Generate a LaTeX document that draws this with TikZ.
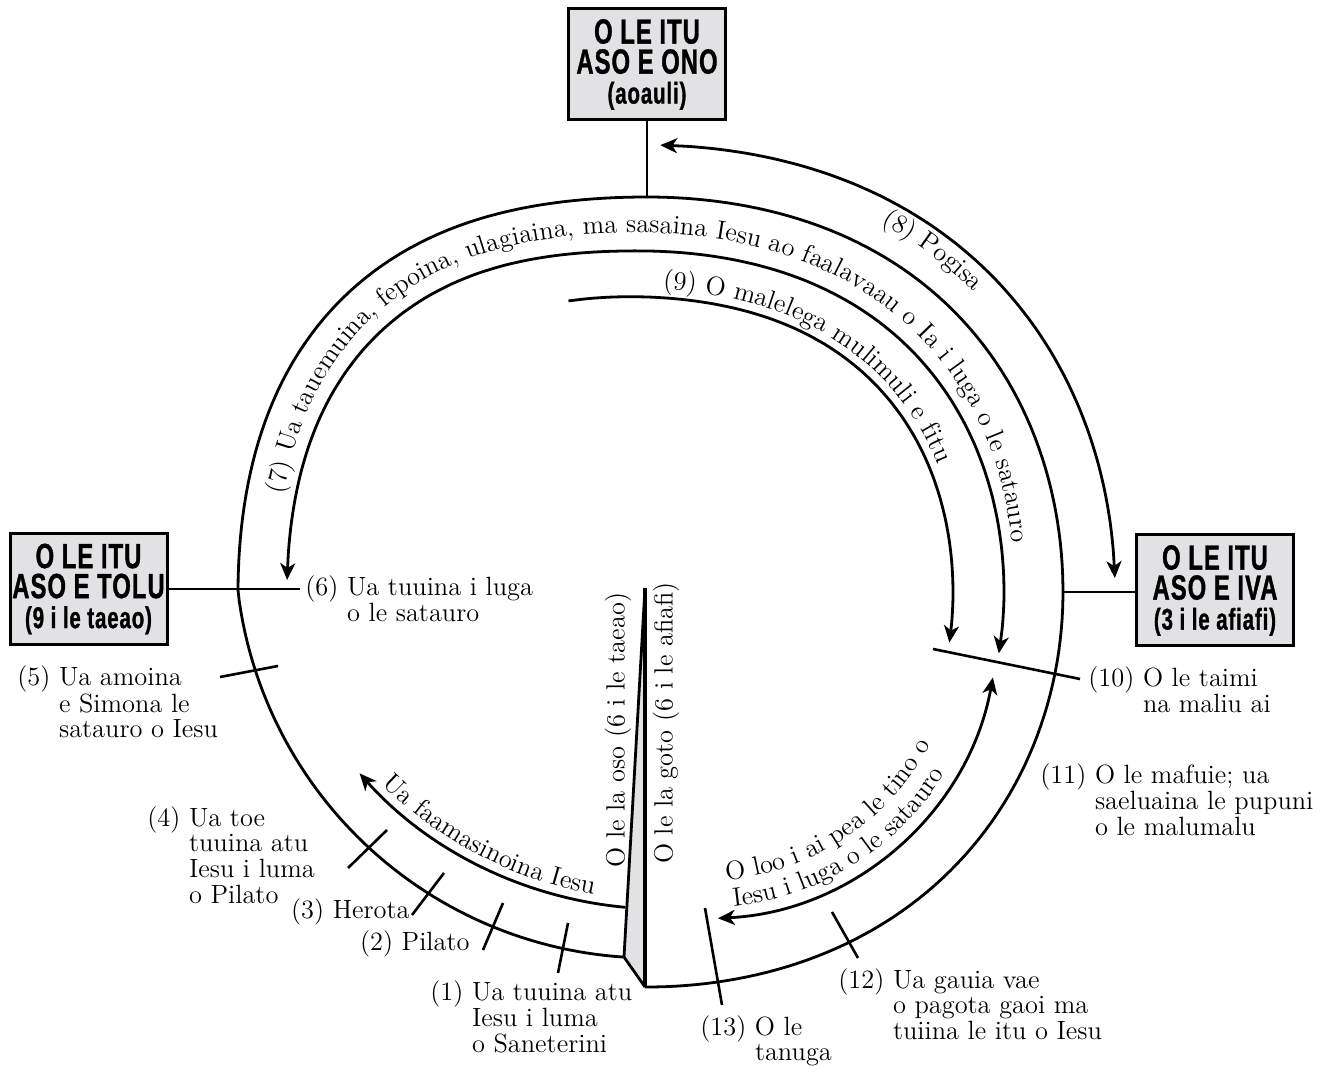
\documentclass[tikz,border=0pt]{standalone}
\usepackage{fontspec}
\newfontfamily\boxfont[FakeStretch=0.68, FakeBold=1, LetterSpace=3]{Liberation Sans}
\usetikzlibrary{arrows.meta, decorations.text}

\definecolor{panelgray}{RGB}{226,226,228}
\newcommand{\lblfont}{\fontsize{13.2}{12.4}\selectfont}

\begin{document}
\begin{tikzpicture}[
    x=0.5pt, y=0.5pt,
    >={Stealth[length=8.5pt, width=7.5pt, inset=2.5pt]},
    % ring shape: ellipse quarters with a bulge, spiral circle at the lower left
    declare function={
      sqv(\p)=(\p)*(\p);
      ell(\p,\rx,\ry)=400/sqrt(sqv(cos(\p)*400/\rx)+sqv(sin(\p)*400/\ry));
      cir(\p)=4*cos(\p)+50*sin(\p)+100*sqrt(17.3056-sqv((4*sin(\p)-50*cos(\p))/100));
      ring(\p)=(\p<0) ? ell(\p,416,395)+6*sqv(sin(2*\p)) : ((\p<90) ? ell(\p,416,395)+10*sqv(sin(2*\p)) : ((\p<180) ? ell(\p,409,395)+21*sqv(sin(2*\p)) : cir(\p)));
      ringa(\p)=ell(\p,416,395)+10*sqv(sin(2*\p))-100-10*cos(\p);
    },
    % Define styles for the different parts
    daybox/.style={rectangle, draw, line width=1.5pt, fill=panelgray, minimum width=78.5pt, minimum height=55.5pt, inner sep=0pt, align=center, font=\boxfont\bfseries\fontsize{17.5}{15}\selectfont},
    curve/.style={line width=1.4pt},
    tickline/.style={line width=1.3pt},
    lbl/.style={inner sep=0pt, font=\lblfont},
    sidelbl/.style={inner sep=0pt, font=\lblfont, rotate=90},
    arctext/.style={decorate, decoration={text along path, text align=left, text={|\lblfont|#1}}},
]
\useasboundingbox (0,0) rectangle (1335,1066);

% -------------------------
% Day boxes
% -------------------------
\node (sixth) [daybox] at (647,1001.5) {O LE ITU\\ASO E ONO\\{\fontsize{15}{15}\selectfont (aoauli)}};
\node (third) [daybox] at (88.5,477) {O LE ITU\\ASO E TOLU\\{\fontsize{15}{15}\selectfont (9 i le taeao)}};
\node (ninth) [daybox] at (1215,475.5) {O LE ITU\\ASO E IVA\\{\fontsize{15}{15}\selectfont (3 i le afiafi)}};

% -------------------------
% Key points
% -------------------------
\coordinate (centre) at (647,474);
\coordinate (trialc) at (662,562);
\coordinate (bodyc) at (704,441);
\coordinate (wtop) at (645,478);
\coordinate (wb) at (645,79);
\coordinate (wl) at (624,109);
\coordinate (sixend) at (300,476);

\begin{scope}[shift={(centre)}]
  \coordinate (topjoin) at (90:395);
  \coordinate (ninejoin) at (0:416);
\end{scope}

% -------------------------
% Sunrise / sunset wedge
% -------------------------
\fill[panelgray] (wtop) -- (wb) -- (wl) -- cycle;
\draw[curve] (wl) -- (wtop);
\draw[curve] (wl) -- (wb);
\draw[curve, line width=1.9pt] (wtop) -- (wb);

% -------------------------
% Day ring and arcs
% -------------------------
\begin{scope}[shift={(centre)}]
  % outer ring (spiral end at the wedge)
  \draw[curve] plot[domain=-90.3:266.3, samples=240, variable=\t] ({\t}:{ring(\t)});
  % (7) mocking
  \draw[curve, <->] plot[smooth, domain=178.1:-9.9, samples=45, variable=\t] ({\t}:{ring(\t)-54-5*cos(\t)});
  % (9) last words
  \draw[curve, ->] plot[smooth, domain=105.1:-9.5, samples=30, variable=\t] ({\t}:{ringa(\t)});
  % (8) darkness
  \draw[curve, <->] plot[smooth, domain=88.3:1.7, samples=25, variable=\t] ({\t}:{ring(\t)+52});

  % texts along the arcs
  \path[arctext={(7) Ua tauemuina, fepoina, ulagiaina, ma sasaina Iesu ao faalavaau o Ia i luga o le satauro}]
    plot[domain=165:-8, samples=160, variable=\t] ({\t}:{ring(\t)-44-5*cos(\t)+8*sin(\t)});
  \path[arctext={(9) O malelega mulimuli e fitu}]
    plot[domain=87:-5, samples=80, variable=\t] ({\t}:{ringa(\t)+9});
  \path[arctext={(8) Pogisa}]
    plot[domain=57.5:10, samples=40, variable=\t] ({\t}:{ring(\t)+28});
\end{scope}

% trials arc
\begin{scope}[shift={(trialc)}]
  \coordinate (fS) at (264.8:405);
  \draw[curve, ->] (fS) arc[start angle=264.8, end angle=221.7, radius=405] coordinate (fE);
  \path[arctext={Ua faamasinoina Iesu}] (225:396) arc[start angle=225, end angle=275, radius=396];
\end{scope}

% body on the cross
\begin{scope}[shift={(bodyc)}]
  \coordinate (lS) at (-87.3:293.6);
  \draw[curve, <->] (lS) arc[start angle=-87.3, end angle=-10.3, radius=293.6] coordinate (lE);
  \path[arctext={O loo i ai pea le tino o}] (-85:256) arc[start angle=-85, end angle=10, radius=256];
  \path[arctext={Iesu i luga o le satauro}] (-84:283) arc[start angle=-84, end angle=10, radius=283];
\end{scope}

% Box connections
\draw[curve] (sixth.south) -- (topjoin);
\draw[curve] (third.east) -- (third.east -| sixend);
\draw[curve] (ninejoin) -- (ninejoin -| ninth.west);

% -------------------------
% Tick marks
% -------------------------
\coordinate (t1a) at (568,143); \coordinate (t1b) at (558,93);
\coordinate (t2a) at (503,163); \coordinate (t2b) at (483,116);
\coordinate (t3a) at (444,193); \coordinate (t3b) at (412,151);
\coordinate (t4a) at (387,236); \coordinate (t4b) at (348,198);
\coordinate (t5a) at (278,400); \coordinate (t5b) at (220,389);
\coordinate (t10a) at (933,417); \coordinate (t10b) at (1080,387);
\coordinate (t12a) at (832,154); \coordinate (t12b) at (858,108);
\coordinate (t13a) at (705,158); \coordinate (t13b) at (722,61);
\draw[tickline] (t1a) -- (t1b);
\draw[tickline] (t2a) -- (t2b);
\draw[tickline] (t3a) -- (t3b);
\draw[tickline] (t4a) -- (t4b);
\draw[tickline] (t5a) -- (t5b);
\draw[tickline] (t10a) -- (t10b);
\draw[tickline] (t12a) -- (t12b);
\draw[tickline] (t13a) -- (t13b);

% -------------------------
% Event labels
% -------------------------
\node (lbl1) [lbl, anchor=base west] at (430,65.5) {\begin{tabular}[t]{@{}l@{\ }l@{}}(1) & Ua tuuina atu\\ & Iesu i luma\\ & o Saneterini\end{tabular}};
\node (lbl2) [lbl, anchor=base east] at (470,115) {(2) Pilato};
\node (lbl3) [lbl, anchor=base east] at (410,147) {(3) Herota};
\node (lbl4) [lbl, anchor=base west] at (147,239) {\begin{tabular}[t]{@{}l@{\ }l@{}}(4) & Ua toe\\ & tuuina atu\\ & Iesu i luma\\ & o Pilato\end{tabular}};
\node (lbl5) [lbl, anchor=base west] at (17,380) {\begin{tabular}[t]{@{}l@{\ }l@{}}(5) & Ua amoina\\ & e Simona le\\ & satauro o Iesu\end{tabular}};
\node (lbl6) [lbl, anchor=base west] at (305,470) {\begin{tabular}[t]{@{}l@{\ }l@{}}(6) & Ua tuuina i luga\\ & o le satauro\end{tabular}};
\node (lbl10) [lbl, anchor=base west] at (1088,379) {\begin{tabular}[t]{@{}l@{\ }l@{}}(10) & O le taimi\\ & na maliu ai\end{tabular}};
\node (lbl11) [lbl, anchor=base west] at (1040,282) {\begin{tabular}[t]{@{}l@{\ }l@{}}(11) & O le mafuie; ua\\ & saeluaina le pupuni\\ & o le malumalu\end{tabular}};
\node (lbl12) [lbl, anchor=base west] at (838,77) {\begin{tabular}[t]{@{}l@{\ }l@{}}(12) & Ua gauia vae\\ & o pagota gaoi ma\\ & tuiina le itu o Iesu\end{tabular}};
\node (lbl13) [lbl, anchor=base west] at (700,30) {\begin{tabular}[t]{@{}l@{\ }l@{}}(13) & O le\\ & tanuga\end{tabular}};

% Sunrise and sunset
\node (rise) [sidelbl] at (618,336) {O le la oso (6 i le taeao)};
\node (set) [sidelbl] at (666,343) {O le la goto (6 i le afiafi)};

\end{tikzpicture}
\end{document}
